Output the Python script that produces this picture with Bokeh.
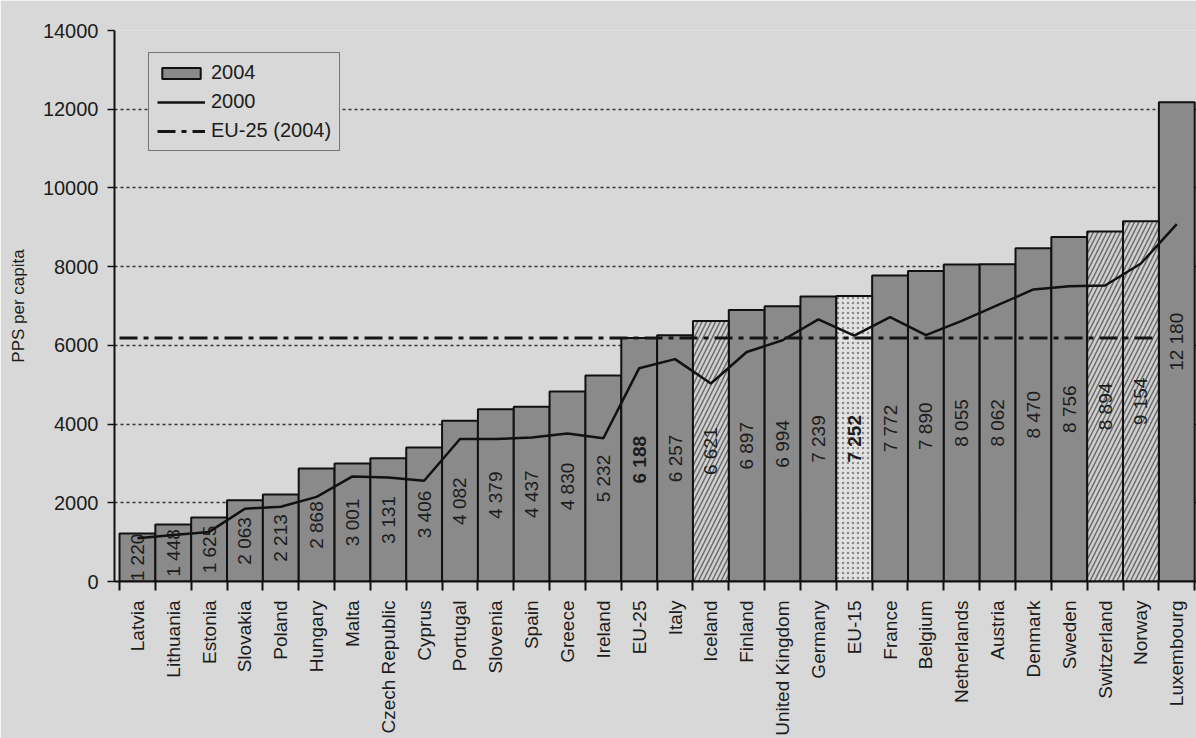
import math

from bokeh.core.properties import value
from bokeh.embed import file_html
from bokeh.models import ColumnDataSource, FixedTicker, Range1d
from bokeh.plotting import figure
from bokeh.resources import INLINE

# GDP per capita in purchasing power standards
countries = [
    "Latvia", "Lithuania", "Estonia", "Slovakia", "Poland", "Hungary", "Malta",
    "Czech Republic", "Cyprus", "Portugal", "Slovenia", "Spain", "Greece",
    "Ireland", "EU-25", "Italy", "Iceland", "Finland", "United Kingdom",
    "Germany", "EU-15", "France", "Belgium", "Netherlands", "Austria",
    "Denmark", "Sweden", "Switzerland", "Norway", "Luxembourg",
]
pps_2004 = [
    1220, 1448, 1625, 2063, 2213, 2868, 3001, 3131, 3406, 4082, 4379, 4437,
    4830, 5232, 6188, 6257, 6621, 6897, 6994, 7239, 7252, 7772, 7890, 8055,
    8062, 8470, 8756, 8894, 9154, 12180,
]
pps_2000 = [
    1100, 1180, 1260, 1850, 1900, 2150, 2670, 2640, 2560, 3620, 3620, 3660,
    3760, 3640, 5420, 5650, 5030, 5830, 6130, 6660, 6250, 6720, 6260, 6620,
    7020, 7420, 7500, 7520, 8080, 9080,
]
hatched_bars = ["Iceland", "Switzerland", "Norway"]
dotted_bars = ["EU-15"]
bold_labels = ["EU-25", "EU-15"]
y_ticks = [0, 2000, 4000, 6000, 8000, 10000, 12000, 14000]

n = len(countries)
idx = list(range(n))
eu25_level = pps_2004[countries.index("EU-25")]

BG = "#d8d8d8"
INK = "#1c1c1c"
FONT = "Liberation Sans"


def subset(names):
    keep = [i for i, c in enumerate(countries) if c in names]
    return ColumnDataSource(dict(x=keep, top=[pps_2004[i] for i in keep]))


plain = [c for c in countries if c not in hatched_bars and c not in dotted_bars]

p = figure(
    width=1196, height=738,
    output_backend="svg", toolbar_location=None,
    x_range=Range1d(-0.64, n - 0.45), y_range=Range1d(0, 14000),
    min_border_left=114, min_border_right=0, min_border_top=30, min_border_bottom=154,
    background_fill_color=BG, border_fill_color=BG, outline_line_color=None,
)

# dotted horizontal grid
p.xgrid.visible = False
p.ygrid.ticker = FixedTicker(ticks=y_ticks)
p.ygrid.grid_line_color = "#333333"
p.ygrid.grid_line_dash = "3 3"
p.ygrid.grid_line_width = 1.5

# bars
bar_kw = dict(width=1.0, line_color="#111111", line_width=2)
p.vbar(x="x", top="top", source=subset(plain), fill_color="#8a8a8a",
       legend_label="2004", **bar_kw)
p.vbar(x="x", top="top", source=subset(hatched_bars), fill_color="#d0d0d0",
       hatch_pattern="/", hatch_color="#6e6e6e", hatch_scale=9, hatch_weight=1.6,
       **bar_kw)
p.vbar(x="x", top="top", source=subset(dotted_bars), fill_color="#e2e2e2",
       hatch_pattern=".", hatch_color="#8a8a8a", hatch_scale=5, hatch_weight=1.2,
       **bar_kw)

# value labels inside the bars
labels = ColumnDataSource(dict(
    x=idx,
    y=[v / 2 for v in pps_2004],
    text=[f"{v:,}".replace(",", " ") for v in pps_2004],
    style=["bold" if c in bold_labels else "normal" for c in countries],
))
p.text(x="x", y="y", text="text", source=labels, angle=math.pi / 2,
       text_align="center", text_baseline="middle", text_font=value(FONT),
       text_font_size="19px", text_color=INK, text_font_style="style")

# 2000 line and EU-25 reference level
p.line(x=idx, y=pps_2000, line_color="#111111", line_width=2.5, legend_label="2000")
p.line(x=[idx[0] - 0.5, idx[-2] + 0.5], y=[eu25_level, eu25_level],
       line_color="#151515", line_width=3, line_dash="18 6 5 6",
       legend_label="EU-25 (2004)")

# y axis
p.yaxis.ticker = FixedTicker(ticks=y_ticks)
p.yaxis.axis_label = "PPS per capita"
p.yaxis.axis_label_text_font = FONT
p.yaxis.axis_label_text_font_size = "17px"
p.yaxis.axis_label_text_font_style = "normal"
p.yaxis.axis_label_text_color = INK
p.yaxis.axis_label_standoff = 12
p.yaxis.major_label_text_font = FONT
p.yaxis.major_label_text_font_size = "20px"
p.yaxis.major_label_text_color = INK
p.yaxis.major_label_standoff = 9
p.yaxis.axis_line_color = "#111111"
p.yaxis.axis_line_width = 2
p.yaxis.major_tick_in = 0
p.yaxis.major_tick_out = 7
p.yaxis.major_tick_line_width = 1.5
p.yaxis.major_tick_line_color = "#111111"
p.yaxis.minor_tick_line_color = None

# x axis: names at bar centres, ticks at bar boundaries
p.xaxis.ticker = FixedTicker(ticks=idx, minor_ticks=[i - 0.5 for i in range(n + 1)])
p.xaxis.major_label_overrides = {i: c for i, c in enumerate(countries)}
p.xaxis.major_label_orientation = math.pi / 2
p.xaxis.major_label_text_font = FONT
p.xaxis.major_label_text_font_size = "19px"
p.xaxis.major_label_text_color = INK
p.xaxis.major_label_standoff = 10
p.xaxis.major_tick_line_color = None
p.xaxis.major_tick_in = 0
p.xaxis.major_tick_out = 0
p.xaxis.minor_tick_in = 0
p.xaxis.minor_tick_out = 9
p.xaxis.minor_tick_line_width = 2
p.xaxis.minor_tick_line_color = "#111111"
p.xaxis.axis_line_color = "#111111"
p.xaxis.axis_line_width = 2

# legend
leg = p.legend[0]
leg.location = (34, 430)
leg.background_fill_color = BG
leg.background_fill_alpha = 1
leg.border_line_color = "#111111"
leg.border_line_width = 1.5
leg.label_text_font = FONT
leg.label_text_font_size = "20px"
leg.label_text_color = INK
leg.glyph_width = 48
leg.glyph_height = 14
leg.label_height = 14
leg.label_standoff = 6
leg.spacing = 6
leg.padding = 8
leg.margin = 0

open("out.html", "w").write(file_html(p, INLINE))
